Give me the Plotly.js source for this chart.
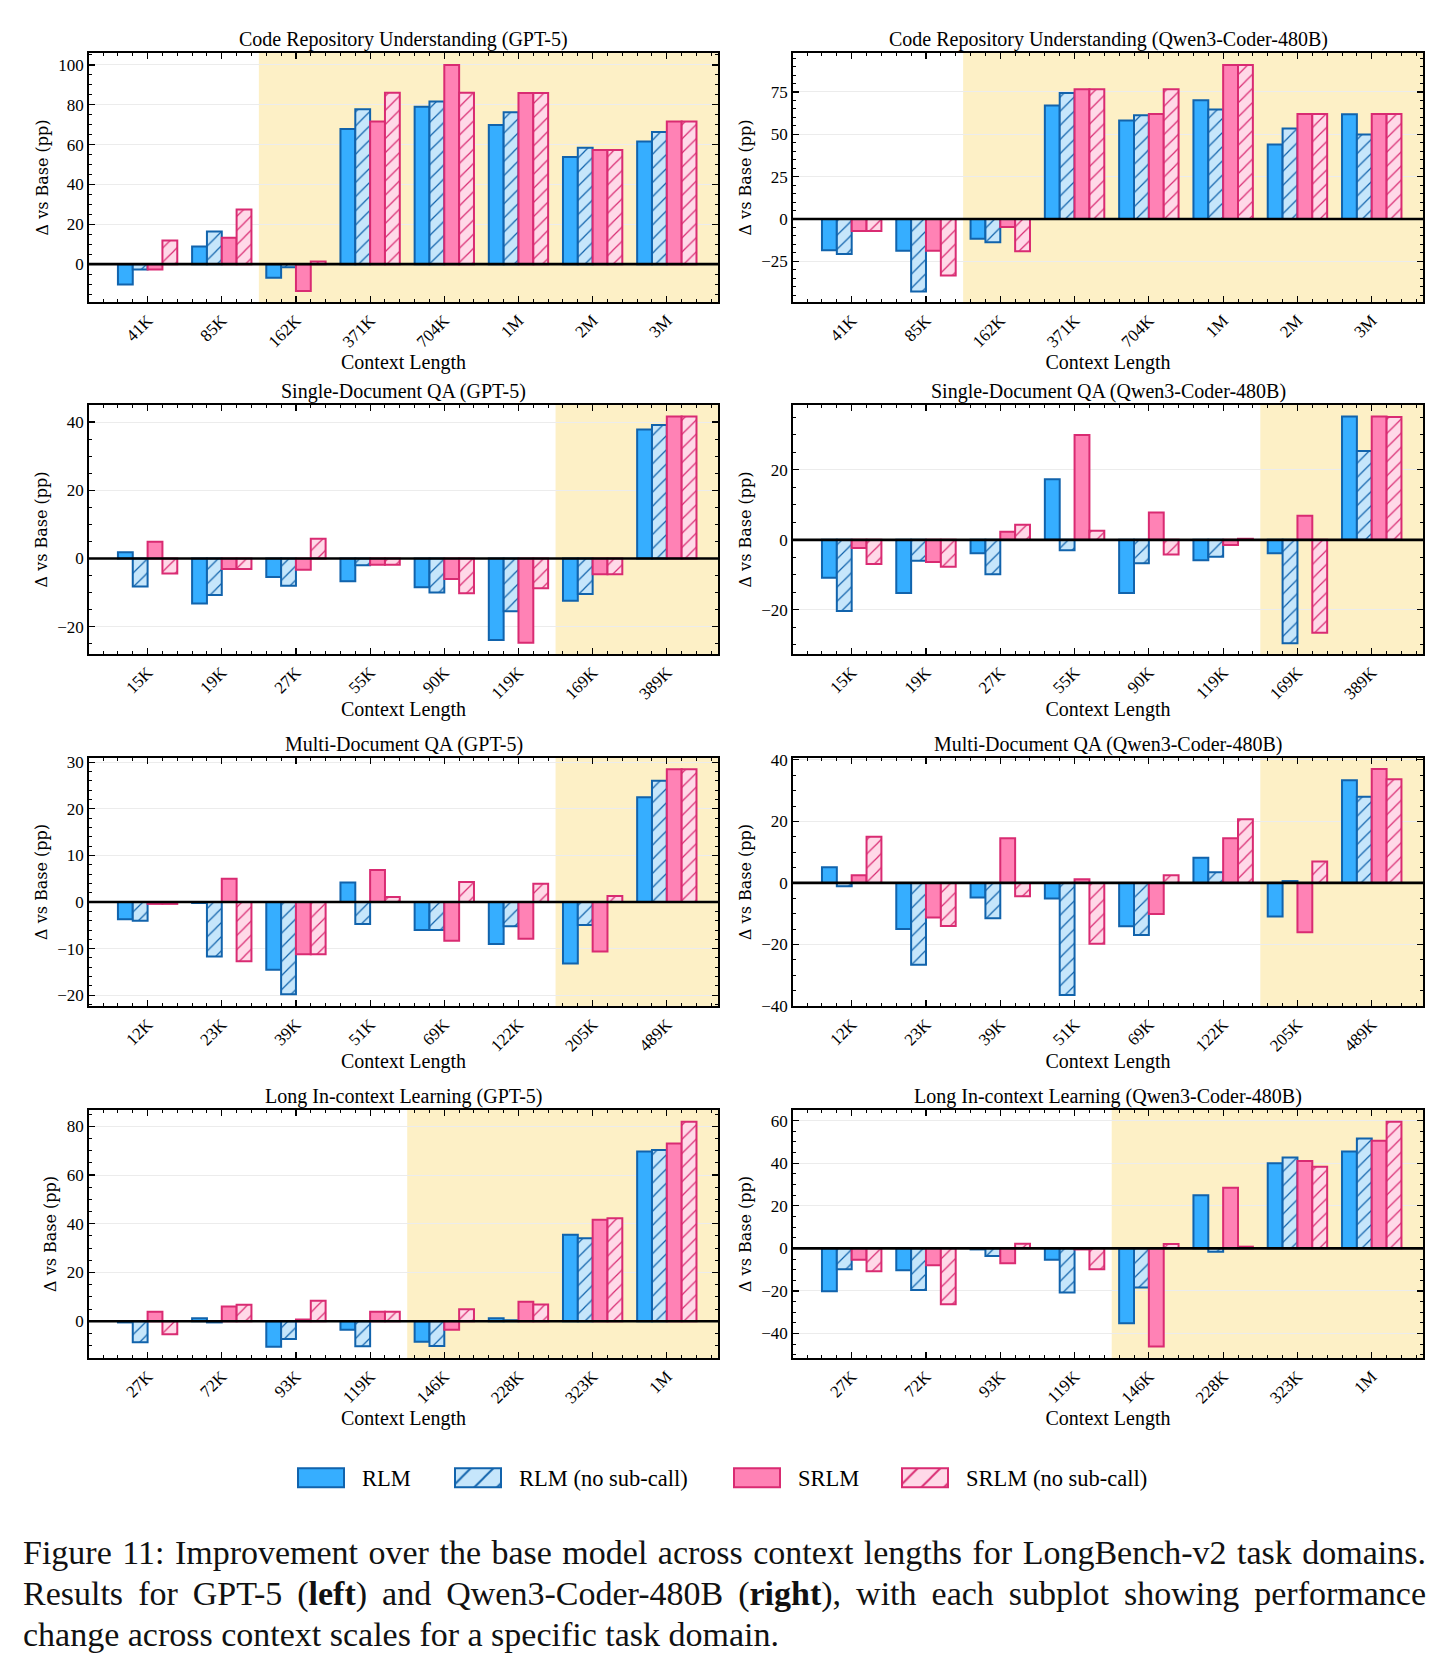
<!DOCTYPE html>
<html>
<head>
<meta charset="utf-8">
<script src="https://cdn.plot.ly/plotly-3.0.1.min.js"></script>
<style>
  html, body { margin: 0; padding: 0; background: #fff; }
  #wrap { position: relative; width: 1447px; height: 1667px; overflow: hidden; }
  #chart { position: absolute; left: 0; top: 0; width: 1447px; height: 1667px; }
  #caption {
    position: absolute; left: 23px; top: 1532px; width: 1420px;
    font-family: "Liberation Serif", "Times New Roman", serif;
    font-size: 34px; line-height: 41px; color: #111;
  }
  #caption div { white-space: nowrap; }
  #caption .line { display: inline-block; white-space: nowrap; }
</style>
</head>
<body>
<div id="wrap">
  <div id="chart"></div>
  <div id="caption">
    <div><span class="line">Figure 11: Improvement over the base model across context lengths for LongBench-v2 task domains.</span></div>
    <div><span class="line">Results for GPT-5 (<b>left</b>) and Qwen3-Coder-480B (<b>right</b>), with each subplot showing performance</span></div>
    <div><span class="line">change across context scales for a specific task domain.</span></div>
  </div>
</div>
<script>
// ---- data: change vs. base model (percentage points) ----
const seriesNames = ['RLM', 'RLM (no sub-call)', 'SRLM', 'SRLM (no sub-call)'];

const codeRepoLengths  = ['41K', '85K', '162K', '371K', '704K', '1M', '2M', '3M'];
const singleDocLengths = ['15K', '19K', '27K', '55K', '90K', '119K', '169K', '389K'];
const multiDocLengths  = ['12K', '23K', '39K', '51K', '69K', '122K', '205K', '489K'];
const iclLengths       = ['27K', '72K', '93K', '119K', '146K', '228K', '323K', '1M'];

// index of the first context length that is shaded in each task row
const firstShadedIndex = [2, 6, 6, 4];

// rows follow seriesNames order
const codeRepoGpt5 = [
  [-10.2, 8.8, -6.8, 67.8, 79.0, 69.8, 53.8, 61.6],
  [-2.7, 16.4, -1.5, 77.8, 81.6, 76.3, 58.4, 66.3],
  [-2.7, 13.2, -13.5, 71.6, 100.0, 85.9, 57.3, 71.6],
  [11.9, 27.4, 1.3, 86.0, 86.0, 85.9, 57.3, 71.6]
];
const codeRepoQwen = [
  [-18.5, -18.7, -11.6, 67.0, 58.1, 70.1, 44.0, 61.8],
  [-20.6, -42.8, -13.7, 74.4, 61.3, 64.6, 53.4, 49.9],
  [-7.1, -18.7, -4.7, 76.6, 62.0, 90.9, 62.0, 62.0],
  [-7.1, -33.4, -19.0, 76.6, 76.6, 90.9, 62.0, 62.0]
];
const singleDocGpt5 = [
  [1.8, -13.2, -5.4, -6.7, -8.4, -23.9, -12.4, 37.8],
  [-8.2, -10.7, -8.0, -2.0, -10.0, -15.5, -10.4, 39.1],
  [4.9, -3.1, -3.3, -1.8, -6.0, -24.7, -4.6, 41.6],
  [-4.4, -3.1, 5.8, -1.8, -10.2, -8.7, -4.6, 41.6]
];
const singleDocQwen = [
  [-10.8, -15.2, -3.8, 17.3, -15.2, -5.8, -3.8, 35.2],
  [-20.3, -6.0, -9.8, -3.0, -6.7, -4.8, -29.5, 25.4],
  [-2.3, -6.3, 2.3, 29.9, 7.8, -1.5, 6.9, 35.2],
  [-6.9, -7.7, 4.3, 2.6, -4.2, 0.3, -26.5, 35.1]
];
const multiDocGpt5 = [
  [-3.7, -0.2, -14.5, 4.2, -6.0, -9.0, -13.2, 22.5],
  [-4.0, -11.7, -19.8, -4.7, -6.0, -5.2, -4.9, 26.0],
  [-0.4, 5.0, -11.2, 6.9, -8.3, -7.9, -10.6, 28.5],
  [-0.4, -12.7, -11.2, 1.1, 4.3, 3.9, 1.3, 28.5]
];
const multiDocQwen = [
  [5.1, -15.0, -4.7, -5.1, -14.1, 8.2, -10.9, 33.4],
  [-1.1, -26.6, -11.5, -36.4, -16.9, 3.5, 0.6, 28.0],
  [2.5, -11.2, 14.5, 1.2, -10.1, 14.5, -16.0, 37.0],
  [15.0, -14.0, -4.3, -19.8, 2.5, 20.7, 7.0, 33.7]
];
const iclGpt5 = [
  [-0.5, 1.2, -10.5, -3.5, -8.4, 1.2, 35.5, 69.7],
  [-8.6, -0.5, -7.3, -10.3, -10.2, 0.4, 34.1, 70.3],
  [3.9, 6.0, 0.7, 3.9, -3.5, 8.0, 41.6, 72.9],
  [-5.3, 6.8, 8.4, 3.9, 4.9, 6.9, 42.3, 81.9]
];
const iclQwen = [
  [-20.2, -10.3, -0.5, -5.3, -35.2, 24.9, 40.0, 45.5],
  [-9.8, -19.5, -3.6, -20.7, -18.4, -1.6, 42.7, 51.6],
  [-5.3, -7.9, -7.0, -0.5, -46.1, 28.5, 41.1, 50.5],
  [-10.7, -26.2, 2.2, -9.8, 2.0, 0.8, 38.3, 59.5]
];

const panelTitles = [
  'Code Repository Understanding (GPT-5)', 'Code Repository Understanding (Qwen3-Coder-480B)',
  'Single-Document QA (GPT-5)', 'Single-Document QA (Qwen3-Coder-480B)',
  'Multi-Document QA (GPT-5)', 'Multi-Document QA (Qwen3-Coder-480B)',
  'Long In-context Learning (GPT-5)', 'Long In-context Learning (Qwen3-Coder-480B)'
];
const rowLengths = [codeRepoLengths, singleDocLengths, multiDocLengths, iclLengths];
const panelValues = [codeRepoGpt5, codeRepoQwen, singleDocGpt5, singleDocQwen,
                     multiDocGpt5, multiDocQwen, iclGpt5, iclQwen];

// ---- layout geometry and styling ----
const W = 1447, H = 1667;
const colX = [[89, 718], [793, 1423]];
const rowY = [[53, 302], [405, 654], [758, 1006], [1110, 1358]];
const xRange = [-0.79, 7.69];
const yAxes = [
  { range: [-19, 106],    dtick: 20, minor: 5 },
  { range: [-49, 98],     dtick: 25, minor: 5 },
  { range: [-28, 45],     dtick: 20, minor: 5 },
  { range: [-32.6, 38.5], dtick: 20, minor: 5 },
  { range: [-22.3, 30.9], dtick: 10, minor: 2 },
  { range: [-40, 40.6],   dtick: 20, minor: 5 },
  { range: [-15.1, 86.7], dtick: 20, minor: 5 },
  { range: [-51.5, 65],   dtick: 20, minor: 5 }
];

const fills = ['#36AEFF', '#C6E6FB', '#FF82B5', '#FFD9E8'];
const edges = ['#1163AC', '#1163AC', '#D92B72', '#D92B72'];
const hatched = [false, true, false, true];
const serif = 'Liberation Serif, Times New Roman, serif';

const traces = [];
const shapes = [];
const annotations = [];
const layout = {
  width: W, height: H, autosize: false,
  margin: { l: 0, r: 0, t: 0, b: 0 },
  paper_bgcolor: '#fff', plot_bgcolor: '#fff',
  font: { family: serif, color: '#000' },
  barmode: 'group', bargap: 0.2, bargroupgap: 0,
  showlegend: true,
  legend: {
    orientation: 'h', x: 0.5, xanchor: 'center', y: 1 - 1478 / H, yanchor: 'middle',
    font: { family: serif, size: 22.5, color: '#000' },
    itemwidth: 60, traceorder: 'normal', bgcolor: 'rgba(0,0,0,0)'
  },
  shapes: shapes, annotations: annotations
};

panelValues.forEach((vals, p) => {
  const r = Math.floor(p / 2), c = p % 2;
  const n = p + 1;
  const sfx = n === 1 ? '' : String(n);
  const cats = rowLengths[r];
  const idx = cats.map((_, i) => i);

  vals.forEach((series, s) => {
    traces.push({
      type: 'bar', x: idx, y: series, name: seriesNames[s],
      xaxis: 'x' + sfx, yaxis: 'y' + sfx,
      legendgroup: seriesNames[s], showlegend: p === 0,
      hoverinfo: 'skip',
      marker: {
        color: fills[s],
        line: { color: edges[s], width: 2 },
        pattern: hatched[s]
          ? { shape: '/', fgcolor: edges[s], bgcolor: fills[s], size: 10, solidity: 0.12, fillmode: 'replace' }
          : { shape: '' }
      }
    });
  });

  const ya = yAxes[p];
  layout['xaxis' + sfx] = {
    domain: [colX[c][0] / W, colX[c][1] / W], anchor: 'y' + sfx,
    range: xRange, tickmode: 'array', tickvals: idx, ticktext: cats, tickangle: -45,
    ticks: 'inside', ticklen: 6, tickwidth: 1.2, tickcolor: '#000',
    minor: { tickmode: 'linear', tick0: 0, dtick: 0.2, ticks: 'inside', ticklen: 3, tickwidth: 1, tickcolor: '#000', showgrid: false },
    showline: true, linecolor: '#000', linewidth: 1.8, mirror: 'allticks',
    showgrid: false, zeroline: false,
    tickfont: { family: serif, size: 17, color: '#000' },
    title: { text: 'Context Length', font: { family: serif, size: 20, color: '#000' }, standoff: 0 }
  };
  layout['yaxis' + sfx] = {
    domain: [1 - rowY[r][1] / H, 1 - rowY[r][0] / H], anchor: 'x' + sfx,
    range: ya.range, tick0: 0, dtick: ya.dtick,
    ticks: 'inside', ticklen: 6, tickwidth: 1.2, tickcolor: '#000',
    minor: { dtick: ya.minor, ticks: 'inside', ticklen: 3, tickwidth: 1, tickcolor: '#000', showgrid: false },
    showline: true, linecolor: '#000', linewidth: 1.8, mirror: 'allticks',
    showgrid: true, gridcolor: '#ececec', gridwidth: 1, zeroline: false,
    tickfont: { family: serif, size: 17, color: '#000' },
    title: { text: 'Δ vs Base (pp)', font: { family: 'DejaVu Serif, serif', size: 16, color: '#000' }, standoff: 6 }
  };

  // shaded long-context region
  shapes.push({
    type: 'rect', xref: 'x' + sfx, yref: 'y' + sfx + ' domain',
    x0: firstShadedIndex[r] - 0.5, x1: xRange[1], y0: 0, y1: 1,
    fillcolor: '#FDF0C6', line: { width: 0 }, layer: 'below'
  });
  // zero reference line
  shapes.push({
    type: 'line', xref: 'x' + sfx + ' domain', yref: 'y' + sfx,
    x0: 0, x1: 1, y0: 0, y1: 0,
    line: { color: '#000', width: 2.6 }, layer: 'above'
  });

  annotations.push({
    xref: 'paper', yref: 'paper',
    x: (colX[c][0] + colX[c][1]) / 2 / W, y: 1 - (rowY[r][0] - 13.5) / H,
    xanchor: 'center', yanchor: 'middle', showarrow: false,
    text: panelTitles[p], font: { family: serif, size: 20, color: '#000' }
  });
});

// legend entry placement: left edge of each swatch, swatch size and gap to its label (px)
const swatchLeft = [298, 455, 734, 902];
const swatchHalfW = 23, swatchHalfH = 9.5, swatchGap = 18;

function arrangeLegend(gd) {
  // entries are spread wider than the default legend box, so drop its clipping
  gd.querySelectorAll('.legend [clip-path]').forEach(el => el.removeAttribute('clip-path'));
  gd.querySelectorAll('.legend .traces').forEach((g, i) => {
    const sw = g.querySelector('.legendpoints path');
    const tx = g.querySelector('text.legendtext');
    if (!sw || !tx || i >= swatchLeft.length) return;
    const rectPath = dx => `M${swatchHalfW + dx},${swatchHalfH}H${-swatchHalfW + dx}V${-swatchHalfH}H${swatchHalfW + dx}Z`;
    sw.setAttribute('d', rectPath(0));
    const dx = (tx.getBoundingClientRect().left - swatchGap) - sw.getBoundingClientRect().right;
    sw.setAttribute('d', rectPath(dx));
    const shift = swatchLeft[i] - sw.getBoundingClientRect().left;
    const m = /translate\(\s*([-\d.e]+)[\s,]+([-\d.e]+)\s*\)/.exec(g.getAttribute('transform') || '');
    const x0 = m ? +m[1] : 0, y0 = m ? +m[2] : 0;
    g.setAttribute('transform', `translate(${x0 + shift},${y0})`);

    // coarser hatching inside the enlarged swatch
    const fill = sw.style.fill || sw.getAttribute('fill') || '';
    const ref = /#([^"')\s]+)/.exec(fill);
    if (ref) {
      const pat = document.getElementById(ref[1]);
      if (pat && pat.tagName.toLowerCase() === 'pattern') pat.setAttribute('patternTransform', 'scale(1.6)');
    }
  });
}

// caption: first two lines justified to the full width, last line left-aligned
function fitCaption() {
  const lines = Array.from(document.querySelectorAll('#caption .line'));
  const fullWidth = 1403, minSpaceStretch = 2;
  lines.forEach(el => { el.style.letterSpacing = '0px'; el.style.wordSpacing = '0px'; });
  // a slight common tracking, kept small enough that the widest line still fits
  let ls = 0.8;
  lines.slice(0, -1).forEach(el => {
    const w = el.getBoundingClientRect().width;
    const n = el.textContent.length;
    const spaces = (el.textContent.match(/ /g) || []).length;
    ls = Math.min(ls, (fullWidth - w - spaces * minSpaceStretch) / n);
  });
  lines.forEach(el => { el.style.letterSpacing = ls + 'px'; });
  lines.slice(0, -1).forEach(el => {
    const w = el.getBoundingClientRect().width;
    const spaces = (el.textContent.match(/ /g) || []).length;
    el.style.wordSpacing = ((fullWidth - w) / spaces) + 'px';
  });
}
fitCaption();

Plotly.newPlot('chart', traces, layout, { staticPlot: true, displayModeBar: false }).then(gd => {
  arrangeLegend(gd);
});
</script>
</body>
</html>
